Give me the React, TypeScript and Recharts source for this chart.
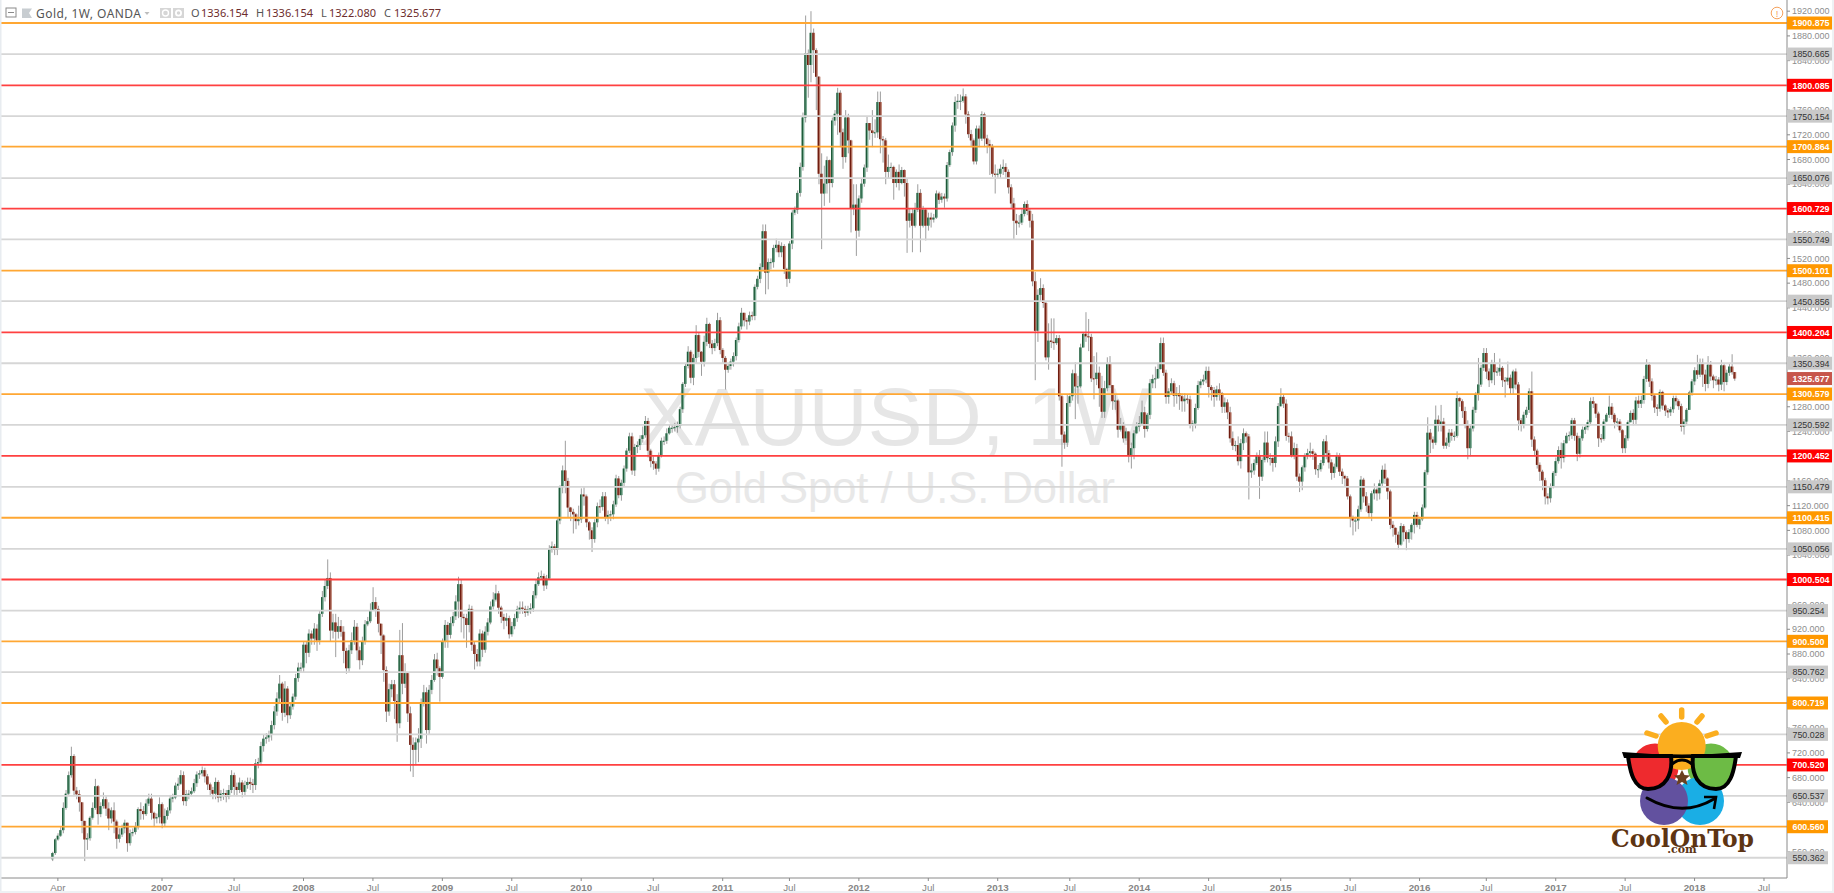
import { Bar, ComposedChart, ReferenceLine, XAxis, YAxis } from "recharts";

const FONT = "'Liberation Sans', Arial, sans-serif";

// weekly candles, ten per row
const opens = [
  548, 558, 580, 586, 595, 631, 654, 684, 715, 659,
  653, 640, 610, 580, 582, 615, 631, 666, 621, 634,
  645, 630, 614, 627, 609, 581, 588, 598, 607, 574,
  590, 592, 600, 629, 626, 621, 638, 646, 623, 614,
  616, 637, 606, 618, 627, 646, 648, 667, 670, 684,
  642, 653, 654, 658, 671, 685, 687, 692, 682, 669,
  660, 654, 673, 648, 654, 655, 649, 660, 684, 665,
  660, 672, 657, 668, 673, 670, 668, 703, 705, 731,
  743, 745, 749, 765, 787, 808, 832, 785, 824, 781,
  795, 811, 841, 858, 858, 895, 882, 913, 905, 921,
  902, 945, 972, 990, 1003, 918, 931, 916, 925, 916,
  885, 857, 886, 902, 924, 886, 870, 901, 928, 933,
  950, 964, 953, 929, 910, 854, 787, 823, 831, 804,
  768, 878, 832, 849, 784, 733, 725, 737, 743, 800,
  818, 757, 822, 838, 871, 857, 843, 900, 927, 911,
  930, 941, 965, 993, 940, 938, 927, 953, 895, 880,
  868, 913, 887, 916, 931, 957, 968, 978, 955, 940,
  934, 938, 912, 925, 938, 952, 955, 953, 947, 952,
  954, 975, 993, 1004, 1006, 991, 1002, 1049, 1054, 1049,
  1096, 1150, 1177, 1160, 1117, 1110, 1106, 1095, 1098, 1138,
  1135, 1093, 1080, 1066, 1093, 1119, 1118, 1135, 1101, 1105,
  1106, 1122, 1164, 1137, 1157, 1180, 1209, 1232, 1177, 1215,
  1218, 1228, 1234, 1257, 1209, 1192, 1188, 1180, 1202, 1225,
  1225, 1237, 1246, 1246, 1247, 1249, 1276, 1317, 1346, 1369,
  1327, 1359, 1396, 1369, 1353, 1385, 1414, 1382, 1375, 1383,
  1420, 1372, 1359, 1340, 1346, 1353, 1362, 1388, 1410, 1432,
  1420, 1418, 1428, 1427, 1474, 1487, 1506, 1564, 1497, 1514,
  1514, 1537, 1542, 1530, 1540, 1503, 1487, 1544, 1594, 1599,
  1626, 1668, 1748, 1852, 1833, 1885, 1857, 1814, 1657, 1625,
  1641, 1679, 1642, 1743, 1754, 1788, 1724, 1684, 1748, 1711,
  1600, 1607, 1565, 1617, 1641, 1667, 1739, 1727, 1723, 1724,
  1773, 1713, 1711, 1660, 1668, 1668, 1642, 1660, 1642, 1663,
  1642, 1581, 1593, 1573, 1599, 1626, 1573, 1599, 1573, 1586,
  1583, 1586, 1625, 1615, 1620, 1617, 1671, 1692, 1735, 1773,
  1775, 1775, 1782, 1753, 1721, 1711, 1677, 1730, 1714, 1753,
  1714, 1705, 1702, 1657, 1656, 1657, 1665, 1668, 1660, 1635,
  1609, 1581, 1577, 1578, 1592, 1608, 1597, 1581, 1483, 1403,
  1461, 1472, 1448, 1360, 1387, 1385, 1383, 1391, 1297, 1235,
  1222, 1286, 1297, 1334, 1313, 1313, 1376, 1398, 1394, 1393,
  1326, 1325, 1335, 1310, 1272, 1310, 1350, 1315, 1289, 1290,
  1243, 1251, 1229, 1240, 1202, 1213, 1237, 1248, 1253, 1271,
  1244, 1267, 1318, 1325, 1326, 1341, 1383, 1335, 1296, 1305,
  1318, 1298, 1302, 1297, 1289, 1293, 1292, 1251, 1253, 1278,
  1315, 1321, 1324, 1338, 1312, 1307, 1296, 1308, 1302, 1280,
  1287, 1271, 1229, 1217, 1218, 1192, 1221, 1237, 1232, 1174,
  1177, 1189, 1202, 1167, 1194, 1222, 1197, 1197, 1189, 1224,
  1281, 1296, 1285, 1233, 1232, 1202, 1213, 1167, 1159, 1182,
  1202, 1205, 1208, 1204, 1179, 1179, 1189, 1224, 1205, 1190,
  1173, 1183, 1201, 1175, 1168, 1164, 1135, 1100, 1096, 1096,
  1114, 1162, 1135, 1120, 1108, 1140, 1146, 1140, 1156, 1178,
  1164, 1143, 1089, 1084, 1073, 1057, 1087, 1077, 1066, 1077,
  1089, 1105, 1089, 1098, 1117, 1174, 1238, 1227, 1222, 1259,
  1251, 1256, 1217, 1222, 1238, 1233, 1233, 1294, 1289, 1273,
  1252, 1213, 1245, 1275, 1300, 1316, 1343, 1367, 1337, 1323,
  1351, 1336, 1337, 1343, 1323, 1321, 1327, 1310, 1337, 1316,
  1258, 1251, 1267, 1275, 1305, 1227, 1209, 1186, 1175, 1161,
  1135, 1132, 1151, 1173, 1192, 1210, 1197, 1221, 1233, 1234,
  1258, 1233, 1204, 1229, 1243, 1247, 1255, 1289, 1285, 1269,
  1229, 1228, 1256, 1267, 1280, 1267, 1255, 1256, 1242, 1213,
  1229, 1255, 1270, 1259, 1290, 1285, 1291, 1325, 1348, 1321,
  1298, 1279, 1277, 1304, 1282, 1274, 1271, 1276, 1294, 1289,
  1281, 1248, 1256, 1275, 1303, 1321, 1339, 1332, 1351, 1332,
  1317, 1348, 1329, 1323, 1324, 1316, 1347, 1320, 1335, 1345,
  1336.154,
];

const closes = [
  558, 580, 586, 595, 631, 654, 684, 715, 659, 653,
  640, 610, 580, 582, 615, 631, 666, 621, 634, 645,
  630, 614, 627, 609, 581, 588, 598, 607, 574, 590,
  592, 600, 629, 626, 621, 638, 646, 623, 614, 616,
  637, 606, 618, 627, 646, 648, 667, 670, 684, 642,
  653, 654, 658, 671, 685, 687, 692, 682, 669, 660,
  654, 673, 648, 654, 655, 649, 660, 684, 665, 660,
  672, 657, 668, 673, 670, 668, 703, 705, 731, 743,
  745, 749, 765, 787, 808, 832, 785, 824, 781, 795,
  811, 841, 858, 858, 895, 882, 913, 905, 921, 902,
  945, 972, 990, 1003, 918, 931, 916, 925, 916, 885,
  857, 886, 902, 924, 886, 870, 901, 928, 933, 950,
  964, 953, 929, 910, 854, 787, 823, 831, 804, 768,
  878, 832, 849, 784, 733, 725, 737, 743, 800, 818,
  757, 822, 838, 871, 857, 843, 900, 927, 911, 930,
  941, 965, 993, 940, 938, 927, 953, 895, 880, 868,
  913, 887, 916, 931, 957, 968, 978, 955, 940, 934,
  938, 912, 925, 938, 952, 955, 953, 947, 952, 954,
  975, 993, 1004, 1006, 991, 1002, 1049, 1054, 1049, 1096,
  1150, 1177, 1160, 1117, 1110, 1106, 1095, 1098, 1138, 1135,
  1093, 1080, 1066, 1093, 1119, 1118, 1135, 1101, 1105, 1106,
  1122, 1164, 1137, 1157, 1180, 1209, 1232, 1177, 1215, 1218,
  1228, 1234, 1257, 1209, 1192, 1188, 1180, 1202, 1225, 1225,
  1237, 1246, 1246, 1247, 1249, 1276, 1317, 1346, 1369, 1327,
  1359, 1396, 1369, 1353, 1385, 1414, 1382, 1375, 1383, 1420,
  1372, 1359, 1340, 1346, 1353, 1362, 1388, 1410, 1432, 1420,
  1418, 1428, 1427, 1474, 1487, 1506, 1564, 1497, 1514, 1514,
  1537, 1542, 1530, 1540, 1503, 1487, 1544, 1594, 1599, 1626,
  1668, 1748, 1852, 1833, 1885, 1857, 1814, 1657, 1625, 1641,
  1679, 1642, 1743, 1754, 1788, 1724, 1684, 1748, 1711, 1600,
  1607, 1565, 1617, 1641, 1667, 1739, 1727, 1723, 1724, 1773,
  1713, 1711, 1660, 1668, 1668, 1642, 1660, 1642, 1663, 1642,
  1581, 1593, 1573, 1599, 1626, 1573, 1599, 1573, 1586, 1583,
  1586, 1625, 1615, 1620, 1617, 1671, 1692, 1735, 1773, 1775,
  1775, 1782, 1753, 1721, 1711, 1677, 1730, 1714, 1753, 1714,
  1705, 1702, 1657, 1656, 1657, 1665, 1668, 1660, 1635, 1609,
  1581, 1577, 1578, 1592, 1608, 1597, 1581, 1483, 1403, 1461,
  1472, 1448, 1360, 1387, 1385, 1383, 1391, 1297, 1235, 1222,
  1286, 1297, 1334, 1313, 1313, 1376, 1398, 1394, 1393, 1326,
  1325, 1335, 1310, 1272, 1310, 1350, 1315, 1289, 1290, 1243,
  1251, 1229, 1240, 1202, 1213, 1237, 1248, 1253, 1271, 1244,
  1267, 1318, 1325, 1326, 1341, 1383, 1335, 1296, 1305, 1318,
  1298, 1302, 1297, 1289, 1293, 1292, 1251, 1253, 1278, 1315,
  1321, 1324, 1338, 1312, 1307, 1296, 1308, 1302, 1280, 1287,
  1271, 1229, 1217, 1218, 1192, 1221, 1237, 1232, 1174, 1177,
  1189, 1202, 1167, 1194, 1222, 1197, 1197, 1189, 1224, 1281,
  1296, 1285, 1233, 1232, 1202, 1213, 1167, 1159, 1182, 1202,
  1205, 1208, 1204, 1179, 1179, 1189, 1224, 1205, 1190, 1173,
  1183, 1201, 1175, 1168, 1164, 1135, 1100, 1096, 1096, 1114,
  1162, 1135, 1120, 1108, 1140, 1146, 1140, 1156, 1178, 1164,
  1143, 1089, 1084, 1073, 1057, 1087, 1077, 1066, 1077, 1089,
  1105, 1089, 1098, 1117, 1174, 1238, 1227, 1222, 1259, 1251,
  1256, 1217, 1222, 1238, 1233, 1233, 1294, 1289, 1273, 1252,
  1213, 1245, 1275, 1300, 1316, 1343, 1367, 1337, 1323, 1351,
  1336, 1337, 1343, 1323, 1321, 1327, 1310, 1337, 1316, 1258,
  1251, 1267, 1275, 1305, 1227, 1209, 1186, 1175, 1161, 1135,
  1132, 1151, 1173, 1192, 1210, 1197, 1221, 1233, 1234, 1258,
  1233, 1204, 1229, 1243, 1247, 1255, 1289, 1285, 1269, 1229,
  1228, 1256, 1267, 1280, 1267, 1255, 1256, 1242, 1213, 1229,
  1255, 1270, 1259, 1290, 1285, 1291, 1325, 1348, 1321, 1298,
  1279, 1277, 1304, 1282, 1274, 1271, 1276, 1294, 1289, 1281,
  1248, 1256, 1275, 1303, 1321, 1339, 1332, 1351, 1332, 1317,
  1348, 1329, 1323, 1324, 1316, 1347, 1320, 1335, 1345, 1336,
  1325.677,
];

const highs = [
  560, 582, 590, 600, 640, 660, 690, 730, 718, 665,
  660, 640, 595, 590, 618, 640, 678, 668, 640, 656,
  650, 640, 632, 640, 612, 598, 604, 612, 602, 596,
  598, 608, 632, 640, 634, 645, 654, 654, 625, 622,
  648, 640, 630, 632, 652, 654, 672, 680, 692, 690,
  660, 660, 664, 678, 690, 692, 698, 696, 686, 672,
  665, 680, 676, 660, 662, 660, 668, 692, 688, 672,
  680, 676, 675, 680, 680, 678, 710, 712, 738, 750,
  752, 756, 772, 796, 818, 846, 835, 836, 828, 800,
  816, 848, 866, 866, 900, 900, 920, 918, 930, 928,
  950, 982, 1000, 1033, 1012, 945, 945, 940, 935, 925,
  890, 895, 915, 935, 930, 892, 908, 935, 940, 962,
  988, 972, 958, 925, 912, 860, 832, 838, 838, 815,
  919, 930, 865, 850, 795, 745, 745, 760, 808, 830,
  826, 830, 846, 880, 882, 860, 905, 935, 932, 940,
  948, 975, 1005, 1000, 945, 945, 960, 958, 900, 888,
  920, 918, 925, 938, 965, 980, 992, 982, 958, 945,
  946, 942, 932, 945, 958, 965, 965, 958, 958, 962,
  982, 1000, 1012, 1015, 1010, 1008, 1056, 1062, 1058, 1100,
  1153, 1185, 1225, 1165, 1118, 1115, 1108, 1120, 1148, 1150,
  1138, 1095, 1085, 1098, 1125, 1130, 1142, 1142, 1112, 1112,
  1128, 1170, 1168, 1162, 1185, 1213, 1238, 1238, 1220, 1224,
  1234, 1248, 1265, 1262, 1212, 1200, 1192, 1206, 1230, 1232,
  1245, 1252, 1252, 1254, 1256, 1280, 1320, 1350, 1378, 1372,
  1365, 1412, 1400, 1370, 1395, 1424, 1416, 1388, 1390, 1432,
  1425, 1375, 1362, 1350, 1358, 1368, 1392, 1416, 1440, 1432,
  1424, 1434, 1434, 1478, 1492, 1512, 1575, 1575, 1520, 1520,
  1542, 1552, 1548, 1546, 1543, 1505, 1548, 1598, 1604, 1630,
  1675, 1756, 1913, 1858, 1920, 1892, 1860, 1815, 1690, 1670,
  1685, 1680, 1748, 1760, 1796, 1792, 1730, 1760, 1754, 1712,
  1640, 1640, 1622, 1650, 1672, 1750, 1735, 1760, 1745, 1790,
  1790, 1718, 1715, 1688, 1675, 1670, 1664, 1672, 1668, 1664,
  1650, 1600, 1600, 1610, 1640, 1632, 1605, 1600, 1594, 1594,
  1592, 1630, 1628, 1626, 1625, 1676, 1696, 1740, 1782, 1786,
  1785, 1795, 1786, 1758, 1728, 1714, 1735, 1735, 1758, 1756,
  1720, 1712, 1705, 1672, 1665, 1672, 1680, 1674, 1664, 1640,
  1618, 1592, 1590, 1600, 1612, 1614, 1600, 1592, 1498, 1470,
  1488, 1478, 1450, 1415, 1423, 1423, 1396, 1396, 1300, 1240,
  1300, 1302, 1340, 1352, 1330, 1382, 1400, 1433, 1422, 1398,
  1362, 1368, 1345, 1330, 1322, 1360, 1362, 1315, 1300, 1292,
  1262, 1255, 1246, 1240, 1222, 1242, 1255, 1265, 1290, 1280,
  1270, 1325, 1332, 1345, 1350, 1392, 1392, 1340, 1310, 1326,
  1322, 1312, 1315, 1302, 1302, 1300, 1298, 1258, 1285, 1322,
  1325, 1332, 1345, 1345, 1315, 1312, 1314, 1318, 1304, 1295,
  1292, 1280, 1240, 1225, 1232, 1228, 1245, 1240, 1236, 1188,
  1195, 1206, 1210, 1198, 1240, 1240, 1205, 1200, 1232, 1286,
  1310, 1300, 1292, 1238, 1240, 1222, 1220, 1172, 1185, 1205,
  1212, 1222, 1212, 1206, 1186, 1194, 1228, 1234, 1210, 1195,
  1188, 1206, 1205, 1180, 1170, 1168, 1138, 1104, 1102, 1120,
  1168, 1165, 1142, 1124, 1144, 1156, 1150, 1162, 1185, 1188,
  1166, 1146, 1095, 1085, 1078, 1092, 1090, 1080, 1082, 1092,
  1110, 1110, 1102, 1122, 1178, 1263, 1244, 1232, 1282, 1266,
  1283, 1262, 1230, 1244, 1244, 1240, 1305, 1296, 1292, 1280,
  1258, 1250, 1280, 1304, 1359, 1348, 1375, 1375, 1342, 1356,
  1367, 1344, 1358, 1346, 1328, 1353, 1332, 1340, 1342, 1320,
  1262, 1272, 1280, 1310, 1337, 1232, 1212, 1190, 1178, 1165,
  1140, 1156, 1176, 1198, 1216, 1222, 1226, 1238, 1240, 1262,
  1262, 1238, 1233, 1248, 1252, 1259, 1295, 1296, 1276, 1272,
  1236, 1260, 1270, 1298, 1286, 1270, 1262, 1260, 1244, 1234,
  1258, 1274, 1276, 1296, 1298, 1298, 1330, 1357, 1352, 1326,
  1300, 1284, 1308, 1306, 1284, 1278, 1280, 1298, 1298, 1292,
  1285, 1260, 1278, 1306, 1325, 1344, 1364, 1358, 1358, 1340,
  1362, 1354, 1332, 1330, 1328, 1356, 1350, 1340, 1350, 1365,
  1336.154,
];

const lows = [
  545, 555, 578, 584, 590, 628, 650, 680, 650, 645,
  625, 590, 545, 563, 578, 612, 628, 604, 616, 630,
  618, 595, 606, 590, 565, 575, 584, 590, 560, 570,
  585, 588, 596, 612, 612, 618, 634, 612, 600, 606,
  606, 598, 600, 612, 622, 640, 645, 660, 668, 635,
  634, 645, 650, 655, 665, 678, 682, 672, 660, 650,
  645, 645, 640, 642, 644, 640, 645, 655, 652, 650,
  655, 648, 650, 662, 660, 655, 660, 695, 700, 722,
  735, 738, 740, 758, 780, 800, 772, 778, 768, 775,
  790, 806, 835, 850, 850, 865, 875, 895, 895, 885,
  895, 940, 965, 985, 900, 905, 875, 905, 908, 865,
  848, 850, 880, 895, 870, 855, 862, 895, 925, 930,
  950, 940, 915, 880, 835, 770, 780, 810, 775, 738,
  760, 815, 825, 770, 690, 681, 700, 705, 728, 795,
  735, 750, 815, 835, 845, 803, 840, 890, 890, 905,
  925, 935, 938, 915, 905, 890, 915, 885, 855, 860,
  860, 875, 882, 910, 928, 952, 965, 945, 930, 920,
  925, 905, 908, 920, 932, 945, 945, 940, 942, 945,
  948, 970, 990, 1000, 982, 985, 1000, 1044, 1040, 1040,
  1090, 1140, 1140, 1100, 1095, 1075, 1082, 1088, 1092, 1120,
  1085, 1065, 1045, 1060, 1085, 1108, 1112, 1095, 1090, 1095,
  1098, 1118, 1132, 1128, 1150, 1175, 1205, 1170, 1168, 1205,
  1210, 1222, 1230, 1198, 1182, 1178, 1170, 1175, 1198, 1218,
  1220, 1235, 1238, 1240, 1238, 1245, 1270, 1312, 1342, 1318,
  1315, 1350, 1360, 1330, 1345, 1378, 1375, 1365, 1370, 1378,
  1365, 1350, 1308, 1335, 1340, 1345, 1355, 1384, 1405, 1410,
  1405, 1412, 1420, 1420, 1470, 1480, 1500, 1462, 1470, 1502,
  1505, 1530, 1522, 1522, 1495, 1474, 1480, 1535, 1590, 1592,
  1620, 1662, 1740, 1780, 1805, 1820, 1760, 1640, 1535, 1605,
  1625, 1610, 1635, 1735, 1720, 1700, 1665, 1675, 1690, 1562,
  1590, 1524, 1555, 1610, 1636, 1660, 1712, 1700, 1715, 1715,
  1690, 1675, 1640, 1650, 1650, 1615, 1635, 1630, 1640, 1620,
  1529, 1570, 1530, 1570, 1595, 1530, 1570, 1549, 1565, 1570,
  1578, 1584, 1608, 1610, 1602, 1612, 1668, 1686, 1725, 1762,
  1760, 1772, 1738, 1715, 1700, 1672, 1672, 1700, 1710, 1700,
  1690, 1655, 1652, 1625, 1650, 1650, 1655, 1650, 1625, 1600,
  1550, 1558, 1570, 1574, 1588, 1590, 1570, 1475, 1323, 1385,
  1450, 1440, 1355, 1340, 1375, 1372, 1380, 1290, 1183, 1212,
  1215, 1280, 1290, 1260, 1285, 1310, 1392, 1385, 1370, 1320,
  1292, 1315, 1280, 1262, 1262, 1305, 1310, 1275, 1275, 1230,
  1240, 1222, 1225, 1190, 1180, 1195, 1240, 1240, 1250, 1230,
  1240, 1260, 1310, 1310, 1325, 1340, 1330, 1285, 1285, 1300,
  1280, 1285, 1275, 1272, 1272, 1285, 1245, 1240, 1245, 1275,
  1310, 1315, 1318, 1295, 1290, 1280, 1290, 1290, 1270, 1270,
  1260, 1222, 1210, 1208, 1185, 1180, 1210, 1222, 1130, 1165,
  1170, 1186, 1131, 1160, 1190, 1190, 1185, 1175, 1182, 1215,
  1280, 1278, 1225, 1222, 1198, 1195, 1160, 1142, 1145, 1175,
  1195, 1198, 1194, 1170, 1165, 1175, 1185, 1195, 1180, 1162,
  1165, 1180, 1168, 1155, 1150, 1130, 1085, 1072, 1078, 1082,
  1110, 1125, 1110, 1100, 1095, 1130, 1128, 1130, 1150, 1155,
  1130, 1082, 1070, 1060, 1049, 1055, 1062, 1048, 1060, 1065,
  1075, 1085, 1082, 1095, 1115, 1170, 1205, 1212, 1218, 1240,
  1240, 1212, 1212, 1215, 1225, 1225, 1230, 1280, 1262, 1245,
  1195, 1200, 1240, 1270, 1290, 1312, 1338, 1325, 1312, 1318,
  1315, 1330, 1330, 1312, 1295, 1315, 1300, 1300, 1308, 1242,
  1240, 1245, 1262, 1270, 1215, 1200, 1180, 1160, 1145, 1122,
  1122, 1125, 1148, 1168, 1188, 1180, 1190, 1222, 1225, 1228,
  1225, 1192, 1198, 1225, 1236, 1242, 1250, 1278, 1262, 1215,
  1222, 1225, 1255, 1262, 1260, 1245, 1248, 1238, 1205, 1205,
  1225, 1255, 1250, 1252, 1278, 1278, 1285, 1320, 1312, 1290,
  1270, 1265, 1272, 1275, 1265, 1262, 1265, 1270, 1282, 1275,
  1240, 1235, 1250, 1275, 1298, 1315, 1325, 1328, 1312, 1305,
  1310, 1322, 1310, 1315, 1305, 1307, 1305, 1315, 1330, 1332,
  1322.08,
];

const timeTickWeeks = [2, 41, 68, 94, 120, 146, 172, 198, 225, 251, 276, 302, 328, 354, 381, 407, 433, 460, 486, 512, 537, 563, 589, 615, 641];
const timeTickLabels = ["Apr", "2007", "Jul", "2008", "Jul", "2009", "Jul", "2010", "Jul", "2011", "Jul", "2012", "Jul", "2013", "Jul", "2014", "Jul", "2015", "Jul", "2016", "Jul", "2017", "Jul", "2018", "Jul"];
// the round hundreds sit fully under the level tags in the original, so they are left out
const priceTicks = [1920, 1880, 1840, 1760, 1720, 1680, 1640, 1560, 1520, 1480, 1440, 1360, 1320, 1280, 1240, 1160, 1120, 1080, 1040, 960, 920, 880, 840, 760, 720, 680, 640, 560];

const levelPrices = [1900.875, 1850.665, 1800.085, 1750.154, 1700.864, 1650.076, 1600.729, 1550.749, 1500.101, 1450.856, 1400.204, 1350.394, 1300.579, 1250.592, 1200.452, 1150.479, 1100.415, 1050.056, 1000.504, 950.254, 900.5, 850.762, 800.719, 750.028, 700.52, 650.537, 600.56, 550.362];
const levelKinds = ["o", "g", "r", "g", "o", "g", "r", "g", "o", "g", "r", "g", "o", "g", "r", "g", "o", "g", "r", "g", "o", "g", "o", "g", "r", "g", "o", "g"];
const lastPrice = 1325.677;

const FUTURE_WEEKS = 15;
const table = Array.from({ length: closes.length + FUTURE_WEEKS }, (_, i) => {
  if (i >= closes.length) return { week: i };
  const open = opens[i];
  const close = closes[i];
  const high = Math.max(highs[i], open, close);
  const low = Math.min(lows[i], open, close);
  return { week: i, open, close, high, low, range: [low, high] };
});

const PRICE_DOMAIN = [517.6, 1938.1];
const lineColor: Record<string, string> = { o: "#ffa733", r: "#ff4040", g: "#d6d6d6" };
const tagColor: Record<string, string> = { o: "#ff9800", r: "#ff0000", g: "#c9c9c9" };
const tagText: Record<string, string> = { o: "#ffffff", r: "#ffffff", g: "#333333" };

function Candle(props: any) {
  const { x, y, width, height, payload } = props;
  if (!payload || payload.range == null) return null;
  const { open, close, high, low } = payload;
  const cx = x + width / 2;
  const span = high - low || 1;
  const yOf = (p: number) => y + ((high - p) / span) * height;
  const top = yOf(Math.max(open, close));
  const bodyH = Math.max(yOf(Math.min(open, close)) - top, 1);
  const up = close >= open;
  return (
    <g>
      <line x1={cx} x2={cx} y1={y} y2={y + height} stroke="#8c8c8c" strokeOpacity={0.85} strokeWidth={1} />
      <rect x={cx - 1.3} y={top} width={2.7} height={bodyH} fill={up ? "#7bab93" : "#b2705f"} />
      <rect x={cx - 1.3} y={top} width={1.3} height={bodyH} fill={up ? "#1d5a39" : "#6f1c10"} />
    </g>
  );
}

function PriceTag(props: any) {
  const { viewBox, price, bg, color, weight } = props;
  const text = price.toFixed(3);
  const long = text.length > 7;
  const x = viewBox.x + viewBox.width;
  return (
    <g>
      <rect x={x} y={viewBox.y - 6.5} width={long ? 46.5 : 41} height={13} fill={bg} />
      <text
        x={x + 5.5}
        y={viewBox.y + 3.4}
        fill={color}
        fontSize={9.6}
        fontWeight={weight}
        fontFamily={FONT}
        textLength={long ? 37 : 32}
        lengthAdjust="spacingAndGlyphs"
      >
        {text}
      </text>
    </g>
  );
}

function TimeTick(props: any) {
  const { x, y, payload } = props;
  const label = timeTickLabels[timeTickWeeks.indexOf(payload.value)];
  const isYear = label.length === 4;
  return (
    <text x={x} y={y + 8} textAnchor="middle" fontSize={9.8} fontFamily={FONT} fontWeight={isYear ? 700 : 400} fill="#858585">
      {label}
    </text>
  );
}

function Watermark() {
  return (
    <svg width={1834} height={893} style={{ position: "absolute", left: 0, top: 0 }}>
      <text x={640} y={445} fontSize={82} fill="#e6e6e6" fontFamily={FONT}>XAUUSD, 1W</text>
      <text x={675} y={503} fontSize={43.5} fill="#e8e8e8" fontFamily={FONT}>Gold Spot / U.S. Dollar</text>
    </svg>
  );
}

function Header() {
  const ohlc = [
    ["O", 191, 201, "1336.154"],
    ["H", 256, 266, "1336.154"],
    ["L", 321, 329, "1322.080"],
    ["C", 384, 394, "1325.677"],
  ] as const;
  return (
    <svg width={1834} height={893} style={{ position: "absolute", left: 0, top: 0, pointerEvents: "none" }}>
      <rect x={0} y={0} width={1.5} height={893} fill="#e8ecf0" />
      <rect x={1832} y={0} width={2} height={893} fill="#eef1f4" />
      <rect x={0} y={891} width={1834} height={2} fill="#eef1f4" />
      <rect x={6} y={8} width={10} height={9} fill="none" stroke="#8a8a8a" />
      <line x1={8} x2={14} y1={12.5} y2={12.5} stroke="#8a8a8a" />
      <path d="M22 8.5 H32 L29 13 L32 18 H22 Z" fill="#c8cdd1" />
      <text x={36} y={18} fontSize={12} fontFamily="'Noto Sans', sans-serif" fill="#555" letterSpacing={0.45}>Gold, 1W, OANDA</text>
      <path d="M144.5 12 H149.5 L147 15 Z" fill="#bdbdbd" />
      <rect x={160} y={8} width={11} height={10} fill="#d6d6d6" />
      <circle cx={165.5} cy={13} r={3} fill="none" stroke="#fff" strokeWidth={1.4} />
      <rect x={173} y={8} width={11} height={10} fill="#d6d6d6" />
      <circle cx={178.5} cy={13} r={2.6} fill="none" stroke="#fff" strokeWidth={1.8} />
      {ohlc.map(([k, kx, vx, v]) => (
        <g key={k} fontSize={11} fontFamily="'Noto Sans', sans-serif">
          <text x={kx} y={17} fill="#555">{k}</text>
          <text x={vx} y={17} fill="#6d2c2c" textLength={47} lengthAdjust="spacingAndGlyphs">{v}</text>
        </g>
      ))}
      <circle cx={1777} cy={13} r={5.8} fill="#fff" stroke="#f5a25d" strokeWidth={1} />
      <text x={1777} y={16.5} textAnchor="middle" fontSize={9.5} fill="#f5a25d" fontFamily={FONT}>!</text>
    </svg>
  );
}

function Logo() {
  const rays = ["M1681.7 710 V717", "M1661 716 L1666 722", "M1702 716 L1697 722", "M1647 733 L1656 736", "M1716 733 L1707 736"];
  return (
    <svg width={1834} height={893} style={{ position: "absolute", left: 0, top: 0, pointerEvents: "none" }}>
      {rays.map((d) => (
        <path key={d} d={d} stroke="#fbae1f" strokeWidth={5.5} strokeLinecap="round" />
      ))}
      <circle cx={1655} cy={767} r={23.5} fill="#ee2a2e" />
      <circle cx={1711} cy={767} r={23.5} fill="#6dbb45" />
      <circle cx={1700} cy={801} r={24} fill="#1aaee5" />
      <circle cx={1664} cy={801} r={24} fill="#62519f" />
      <circle cx={1681.7} cy={746} r={24} fill="#fbae1f" />
      <path d="M1628 756 H1671 C1673 774 1666 789 1648 789 C1634 789 1630 772 1628 756 Z" fill="#ee2a2e" stroke="#000" strokeWidth={4} />
      <path d="M1693 756 H1736 C1734 772 1730 789 1716 789 C1698 789 1691 774 1693 756 Z" fill="#6dbb45" stroke="#000" strokeWidth={4} />
      <path d="M1622 752 Q1682 757 1742 752 L1740 758 L1624 758 Z" fill="#000" />
      <path d="M1672 764 Q1682 756 1692 764" fill="none" stroke="#000" strokeWidth={3} />
      <path d="M1682 770 L1684.5 775 L1690 775.5 L1686 779 L1687.5 785 L1682 782 L1676.5 785 L1678 779 L1674 775.5 L1679.5 775 Z" fill="#6b4020" />
      <path d="M1647 798 Q1682 818 1714 799" fill="none" stroke="#000" strokeWidth={3} strokeLinecap="round" />
      <path d="M1704 797 L1716 797 L1714 809" fill="none" stroke="#000" strokeWidth={2.6} />
      <text x={1611} y={847} fontSize={25} fontWeight={700} fontFamily="'DejaVu Serif', serif" fill="#5d3413" textLength={143} lengthAdjust="spacingAndGlyphs">CoolOnTop</text>
      <text x={1682} y={853} textAnchor="middle" fontSize={11} fontWeight={700} fontFamily="'DejaVu Serif', serif" fill="#5d3413">.com</text>
    </svg>
  );
}

export default function App() {
  return (
    <div style={{ position: "absolute", left: 0, top: 0, width: 1834, height: 893, overflow: "hidden", background: "#fff" }}>
      <Watermark />
      <div style={{ position: "absolute", left: 0, top: 0 }}>
        <ComposedChart width={1834} height={893} data={table} margin={{ top: 0, right: 0, bottom: 0, left: 0 }} barCategoryGap={0}>
          <XAxis
            dataKey="week"
            type="category"
            ticks={timeTickWeeks}
            interval={0}
            height={15}
            tickSize={3}
            padding={{ left: 51.2, right: 11 }}
            stroke="#8a8a8a"
            tick={<TimeTick />}
          />
          <YAxis
            orientation="right"
            type="number"
            domain={PRICE_DOMAIN}
            ticks={priceTicks}
            interval={0}
            width={47}
            tickSize={3}
            tickMargin={2}
            allowDataOverflow
            stroke="#8a8a8a"
            tick={{ fontSize: 9, fill: "#8d8d8d", fontFamily: FONT }}
            tickFormatter={(v: number) => v.toFixed(3)}
          />
          <Bar dataKey="range" isAnimationActive={false} shape={<Candle />} />
          {levelPrices.map((price, i) => (
            <ReferenceLine key={price} y={price} stroke={lineColor[levelKinds[i]]} strokeWidth={1.8} />
          ))}
        </ComposedChart>
      </div>
      {/* second chart on the same scale so the level tags cover the axis labels */}
      <div style={{ position: "absolute", left: 0, top: 0, pointerEvents: "none" }}>
        <ComposedChart width={1834} height={893} data={table} margin={{ top: 0, right: 47, bottom: 15, left: 0 }}>
          <XAxis dataKey="week" hide />
          <YAxis type="number" domain={PRICE_DOMAIN} allowDataOverflow hide />
          {levelPrices.map((price, i) => (
            <ReferenceLine
              key={price}
              y={price}
              strokeOpacity={0}
              label={<PriceTag price={price} bg={tagColor[levelKinds[i]]} color={tagText[levelKinds[i]]} weight={levelKinds[i] === "g" ? 400 : 700} />}
            />
          ))}
          <ReferenceLine y={lastPrice} strokeOpacity={0} label={<PriceTag price={lastPrice} bg="#c7564b" color="#ffffff" weight={700} />} />
        </ComposedChart>
      </div>
      <Header />
      <Logo />
    </div>
  );
}
